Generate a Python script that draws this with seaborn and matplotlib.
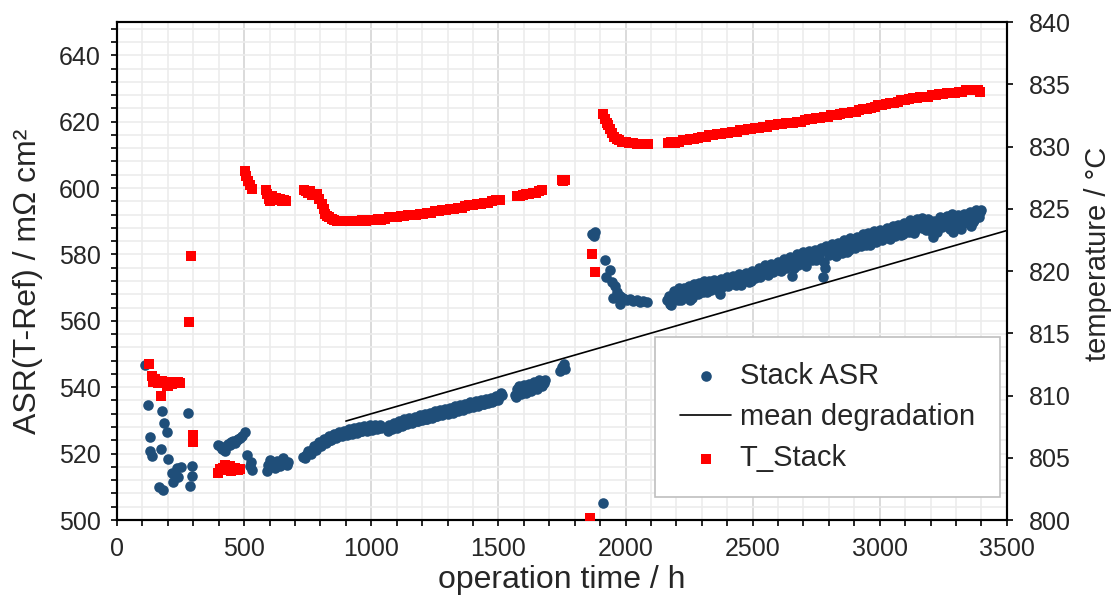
import numpy as np
import pandas as pd
import seaborn as sns
import matplotlib.pyplot as plt
from matplotlib.ticker import MultipleLocator

# ---------------- data ----------------
asr_time = [110, 123, 130, 130, 139, 166, 172, 178, 182, 185, 198, 202, 215, 221, 235, 241, 250, 280, 287, 294, 294,
            398, 405, 412, 418, 425, 431, 438, 444, 450, 457, 464, 470, 477, 484, 490, 503, 510, 523, 530, 527,
            588, 595, 602, 610, 621, 628, 635, 642, 654, 660, 667, 674,
            733, 745, 757, 768, 778, 788, 798, 808, 818, 828, 838, 848, 858, 868, 878, 888, 898, 908, 918, 928,
            938, 948, 958, 968, 978, 988, 998, 1008, 1018, 1028, 1038,
            1065, 1075, 1085, 1095, 1105, 1115, 1125, 1135, 1145, 1155, 1165, 1175, 1185, 1195, 1205, 1215, 1225,
            1235, 1245, 1255, 1265, 1275, 1285, 1295, 1305, 1315, 1325, 1335, 1345, 1355, 1365, 1375, 1385, 1395,
            1405, 1415, 1425, 1435, 1445, 1455, 1465, 1475, 1485, 1495, 1505, 1515,
            1565, 1575, 1585, 1595, 1605, 1615, 1625, 1635, 1645, 1655, 1665, 1676, 1685,
            1742, 1750, 1758, 1762,
            1867, 1875, 1880, 1911, 1919, 1925, 1938, 1945, 1952, 1958, 1965, 1978, 1978, 1990, 2004, 2017, 2030,
            2044, 2057, 2070, 2083,
            2165, 2175, 2185, 2195, 2205, 2215, 2225, 2235, 2245, 2255, 2265, 2275, 2285, 2295, 2305, 2315, 2325,
            2335, 2345, 2358, 2371, 2380, 2392, 2405, 2418, 2430, 2442, 2455, 2467, 2480, 2492, 2505, 2518, 2530,
            2542, 2555, 2567, 2580, 2592, 2605, 2617, 2630, 2642, 2655, 2668, 2680, 2692, 2705, 2712, 2725, 2738,
            2750, 2762, 2777, 2785, 2795, 2805, 2817, 2828, 2840, 2852, 2865, 2878, 2890, 2902, 2915, 2928, 2940,
            2948, 2960, 2972, 2985, 2997, 3010, 3022, 3035, 3047, 3060, 3066, 3078, 3090, 3102, 3115, 3127, 3140,
            3152, 3165, 3171, 3183, 3195, 3210, 3220, 3232, 3245, 3257, 3270, 3282, 3289, 3300, 3312, 3325, 3337,
            3350, 3354, 3360, 3372, 3385, 3393]
asr_value = [546.6, 534.6, 524.9, 520.7, 519.4, 509.9, 521.4, 532.7, 508.9, 529.2, 526.4, 518.4, 514.1, 511.6, 515.6,
             513.1, 516.0, 532.3, 510.3, 513.3, 516.3,
             522.7, 522.2, 521.5, 521.7, 520.7, 522.4, 523.0, 522.6, 523.4, 523.7, 523.2, 524.1, 524.4, 524.8, 525.2,
             526.4, 519.7, 516.3, 515.0, 517.5,
             514.9, 516.6, 518.0, 516.2, 515.6, 517.8, 517.0, 516.2, 518.7, 517.4, 516.5, 517.6,
             519.0, 519.6, 520.3, 521.0, 521.8, 522.6, 523.0, 523.6, 524.0, 524.6, 524.2, 525.0, 525.4, 525.2, 525.9,
             526.0, 526.4, 526.0, 526.8, 526.5, 527.0, 527.3, 526.9, 527.5, 527.8, 527.2, 527.9, 528.0, 527.6, 528.1,
             527.8,
             526.8, 527.9, 528.4, 528.2, 528.9, 529.2, 528.7, 529.5, 529.8, 529.4, 530.1, 530.3, 529.9, 530.6, 530.9,
             530.5, 531.2, 531.0, 531.6, 531.3, 532.0, 531.8, 532.4, 532.1, 532.8, 533.1, 532.7, 533.4, 533.7, 533.3,
             534.0, 534.2, 533.9, 534.6, 534.9, 534.5, 535.1, 535.4, 535.0, 535.7, 536.0, 535.6, 536.3, 536.8, 537.4,
             537.8,
             537.8, 539.5, 538.6, 539.8, 539.3, 540.2, 539.8, 540.9, 540.3, 541.4, 541.0, 541.8, 542.3,
             544.8, 546.0, 546.9, 545.6,
             586.2, 585.5, 586.7, 505.0, 578.3, 573.1, 575.4, 571.8, 567.0, 570.6, 568.6, 567.5, 565.0, 566.8, 566.2,
             566.5, 565.9, 566.4, 565.7, 566.1, 565.7,
             566.3, 565.2, 567.5, 568.6, 566.4, 568.9, 567.2, 569.3, 567.8, 566.2, 568.9, 569.8, 568.1, 570.2, 568.6,
             569.4, 570.8, 569.2, 570.6, 571.2, 568.0, 570.1, 571.5, 570.4, 572.1, 571.0, 572.8, 570.7, 572.4, 573.6,
             572.0, 573.9, 575.1, 573.2, 575.0, 574.1, 575.8, 574.6, 576.3, 575.3, 577.1, 575.9, 577.8, 573.6, 578.4,
             576.8, 578.9, 577.3, 578.6, 579.4, 580.1, 578.2, 579.8, 573.1, 576.0, 580.6, 581.6, 582.6, 579.6, 581.9,
             580.3, 582.6, 581.2, 583.4, 581.8, 584.0, 582.5, 584.6, 584.2, 582.9, 585.1, 583.7, 585.8, 584.3, 586.4,
             585.0, 587.0, 585.6, 586.7, 588.0, 586.2, 588.4, 586.9, 589.0, 587.4, 589.6, 588.0, 589.7, 587.3, 589.4,
             585.2, 587.6, 590.1, 588.3, 590.4, 588.8, 590.9, 586.7, 588.2, 590.6, 589.1, 591.2, 589.5, 591.7, 588.7,
             590.3, 592.6, 592.9]

# second pass of ASR readings (the scatter around the band)
asr_time_b = [740, 752, 762, 773, 783, 793, 803, 813, 823, 833, 843, 853, 863, 873, 883, 893, 903, 913, 923, 933,
              943, 953, 963, 973, 983, 993, 1003, 1013, 1023, 1033,
              1070, 1080, 1090, 1100, 1110, 1120, 1130, 1140, 1150, 1160, 1170, 1180, 1190, 1200, 1210, 1220, 1230,
              1240, 1250, 1260, 1270, 1280, 1290, 1300, 1310, 1320, 1330, 1340, 1350, 1360, 1370, 1380, 1390, 1400,
              1410, 1420, 1430, 1440, 1450, 1460, 1470, 1480, 1490, 1500, 1510,
              1570, 1580, 1590, 1600, 1610, 1620, 1630, 1640, 1650, 1660, 1670, 1680,
              2170, 2180, 2190, 2200, 2210, 2220, 2230, 2240, 2250, 2260, 2270, 2280, 2290, 2300, 2310, 2320, 2330,
              2340, 2350, 2362, 2375, 2386, 2398, 2410, 2423, 2436, 2448, 2461, 2473, 2486, 2498, 2511, 2524, 2536,
              2548, 2561, 2573, 2586, 2598, 2611, 2623, 2636, 2648, 2661, 2674, 2686, 2698, 2710, 2720, 2732, 2744,
              2756, 2768, 2780, 2790, 2800, 2811, 2822, 2834, 2846, 2858, 2871, 2884, 2896, 2909, 2921, 2934, 2946,
              2955, 2966, 2978, 2991, 3003, 3016, 3028, 3041, 3053, 3063, 3072, 3084, 3096, 3108, 3121, 3133, 3146,
              3158, 3168, 3177, 3189, 3201, 3215, 3226, 3238, 3251, 3263, 3276, 3286, 3295, 3306, 3318, 3331, 3343,
              3356, 3366, 3378, 3390, 3398]
asr_value_b = [518.6, 520.9, 519.8, 522.2, 521.2, 523.4, 522.4, 524.5, 523.3, 525.2, 524.0, 525.9, 524.6, 526.6,
               525.3, 526.9, 525.5, 527.4, 526.0, 527.8, 526.3, 528.0, 526.7, 528.3, 526.9, 528.6, 527.1, 528.7,
               527.3, 528.5,
               528.5, 527.3, 529.2, 527.8, 529.9, 528.3, 530.3, 528.9, 530.7, 529.3, 531.1, 529.7, 531.5, 530.1,
               531.9, 530.4, 532.3, 530.8, 532.7, 531.2, 533.1, 531.5, 533.3, 532.0, 533.8, 532.3, 534.3, 532.9,
               534.6, 533.2, 535.0, 533.6, 535.5, 534.0, 535.8, 534.4, 536.2, 534.8, 536.6, 535.2, 536.9, 535.9,
               537.5, 536.2, 538.3,
               537.0, 540.4, 537.9, 540.6, 538.4, 541.0, 539.0, 541.6, 539.6, 542.3, 540.4, 541.2,
               567.6, 564.9, 569.0, 567.0, 569.8, 566.3, 570.0, 568.5, 570.6, 567.0, 571.0, 568.9, 571.3, 569.4,
               571.9, 568.6, 572.0, 570.0, 572.3, 569.4, 572.7, 570.8, 573.1, 571.6, 573.4, 570.7, 574.0, 572.4,
               574.4, 571.8, 575.0, 572.9, 576.0, 574.3, 576.7, 573.7, 577.2, 575.4, 577.8, 574.9, 578.5, 576.8,
               579.2, 576.0, 580.0, 577.9, 580.6, 576.6, 581.0, 578.4, 581.3, 579.6, 581.9, 577.7, 582.4, 579.9,
               583.0, 580.8, 583.5, 582.1, 584.2, 580.6, 584.8, 582.9, 585.3, 583.2, 586.0, 582.7, 586.4, 584.2,
               587.0, 584.9, 587.3, 585.5, 588.0, 584.6, 588.5, 587.2, 589.0, 585.7, 589.5, 587.6, 590.3, 586.4,
               590.6, 588.3, 591.0, 588.7, 590.8, 587.2, 590.2, 586.9, 591.4, 589.0, 591.6, 587.8, 592.1, 589.6,
               591.9, 587.8, 592.3, 590.0, 592.8, 589.9, 593.3, 591.3, 593.5]

temp_time = [126, 136, 143, 150, 160, 173, 176, 188, 195, 202, 210, 218, 228, 238, 248, 283, 291, 300, 300,
             398, 405, 412, 418, 425, 431, 438, 444, 450, 457, 464, 470, 477, 484,
             503, 508, 515, 523, 530,
             585, 590, 596, 602, 610, 618, 625, 632, 640, 648, 656, 664,
             735, 742, 750, 758, 766, 775, 785, 795, 805, 812, 818, 826, 835, 845, 855, 865, 877, 890, 905, 920, 935,
             950, 965, 980, 995, 1010, 1025, 1040, 1055, 1070, 1085, 1100, 1115, 1130, 1145, 1160, 1175, 1190, 1205,
             1220, 1235, 1250, 1265, 1280, 1295, 1310, 1325, 1340, 1355, 1370, 1385, 1400, 1415, 1430, 1445, 1460,
             1475, 1490, 1505,
             1572, 1585, 1598, 1610, 1622, 1635, 1648, 1660, 1672,
             1749, 1755, 1762,
             1860, 1867, 1880,
             1911, 1919, 1926, 1932, 1940, 1948, 1956, 1965, 1975, 1988, 2000, 2015, 2030, 2045, 2057, 2070, 2089,
             2168, 2180, 2195, 2210, 2225, 2240, 2255, 2270, 2285, 2300, 2315, 2330, 2345, 2360, 2375, 2390, 2405,
             2420, 2437, 2450, 2465, 2480, 2495, 2510, 2525, 2540, 2555, 2568, 2585, 2600, 2615, 2630, 2645, 2660,
             2675, 2690, 2705, 2720, 2735, 2750, 2765, 2780, 2795, 2810, 2830, 2845, 2860, 2875, 2890, 2905, 2920,
             2935, 2950, 2965, 2980, 2995, 3010, 3025, 3040, 3055, 3070, 3085, 3100, 3115, 3130, 3145, 3160, 3175,
             3190, 3205, 3220, 3235, 3250, 3265, 3280, 3295, 3310, 3325, 3340, 3355, 3370, 3385, 3393]
temp_value = [812.5, 811.6, 811.1, 811.3, 811.0, 810.0, 811.2, 811.0, 810.8, 810.8, 811.1, 810.9, 811.0, 811.1, 811.0,
              815.9, 821.2, 806.8, 806.3,
              803.8, 804.1, 804.0, 804.2, 804.4, 804.2, 804.1, 804.3, 803.9, 804.0, 804.2, 804.1, 804.0, 804.1,
              828.0, 827.6, 827.2, 826.9, 826.6,
              826.5, 826.2, 825.8, 825.6, 826.0, 825.7, 825.9, 825.7, 825.8, 825.6, 825.7, 825.6,
              826.5, 826.4, 826.3, 826.4, 826.1, 826.2, 826.2, 825.8, 825.4, 825.0, 824.6, 824.4, 824.3, 824.2, 824.1,
              824.0, 824.0, 824.0, 824.0, 824.0, 824.0, 824.0, 824.1, 824.0, 824.1, 824.1, 824.2, 824.1, 824.2, 824.3,
              824.3, 824.3, 824.4, 824.4, 824.5, 824.5, 824.5, 824.6, 824.6, 824.7, 824.7, 824.8, 824.8, 824.9, 824.9,
              825.0, 825.0, 825.1, 825.1, 825.2, 825.3, 825.3, 825.4, 825.4, 825.5, 825.5, 825.6, 825.7, 825.7,
              826.0, 826.0, 826.1, 826.2, 826.2, 826.3, 826.3, 826.4, 826.5,
              827.3, 827.2, 827.3,
              800.2, 821.4, 819.9,
              832.6, 832.2, 831.9, 831.7, 831.4, 831.1, 830.8, 830.6, 830.5, 830.4, 830.4, 830.3, 830.3, 830.2, 830.2,
              830.2, 830.2,
              830.3, 830.4, 830.3, 830.4, 830.5, 830.5, 830.6, 830.6, 830.7, 830.8, 830.8, 830.9, 830.9, 831.0, 831.0,
              831.1, 831.1, 831.2, 831.2, 831.3, 831.3, 831.4, 831.4, 831.5, 831.5, 831.6, 831.6, 831.7, 831.7, 831.8,
              831.8, 831.9, 831.9, 831.9, 832.0, 832.0, 832.1, 832.2, 832.2, 832.3, 832.3, 832.4, 832.4, 832.5, 832.5,
              832.6, 832.7, 832.7, 832.8, 832.8, 832.9, 833.0, 833.0, 833.1, 833.2, 833.3, 833.3, 833.4, 833.5, 833.5,
              833.6, 833.7, 833.7, 833.8, 833.9, 833.9, 834.0, 834.0, 834.0, 834.1, 834.1, 834.2, 834.2, 834.3, 834.3,
              834.3, 834.4, 834.4, 834.5, 834.5, 834.5, 834.5, 834.4]

deg_time = [900, 3500]
deg_value = [529.8, 587.2]

asr_df = pd.DataFrame({"time": asr_time + asr_time_b, "asr": asr_value + asr_value_b})
temp_df = pd.DataFrame({"time": temp_time, "temp": temp_value})
deg_df = pd.DataFrame({"time": deg_time, "asr": deg_value})

# ---------------- style ----------------
sns.set_style("ticks")
plt.rcParams["font.family"] = ["Liberation Sans", "DejaVu Sans"]
txt = "#262626"

fig = plt.figure(figsize=(11.15, 6), dpi=100)
ax = fig.add_axes([0.105, 0.1333, 0.798, 0.83])
ax2 = ax.twinx()

sns.scatterplot(data=asr_df, x="time", y="asr", ax=ax, color="#1f4e79", marker="o", s=58,
                linewidth=0, label="Stack ASR", zorder=3)
sns.lineplot(data=deg_df, x="time", y="asr", ax=ax, color="black", linewidth=1.2,
             label="mean degradation", zorder=4)
sns.scatterplot(data=temp_df, x="time", y="temp", ax=ax2, color="#ff0000", marker="s", s=48,
                linewidth=0, label="T_Stack", zorder=3)

ax.set_xlim(0, 3500)
ax.set_ylim(500, 650)
ax2.set_ylim(800, 840)

ax.xaxis.set_major_locator(MultipleLocator(500))
ax.xaxis.set_minor_locator(MultipleLocator(100))
ax.yaxis.set_minor_locator(MultipleLocator(4))
ax.set_yticks(np.arange(500, 641, 20))
ax2.yaxis.set_major_locator(MultipleLocator(5))

ax.grid(which="major", axis="x", color="#d4d4d4", linewidth=1.2)
ax.grid(which="minor", axis="x", color="#ececec", linewidth=1.2)
ax.grid(which="both", axis="y", color="#ececec", linewidth=1.2)
ax.set_axisbelow(True)

for a in (ax, ax2):
    a.tick_params(which="both", direction="out", length=4, width=1.2, colors="black",
                  labelcolor=txt, labelsize=18)
    for sp in a.spines.values():
        sp.set_color("black")
        sp.set_linewidth(1.5)
ax.tick_params(axis="x", which="both", pad=8)
ax.tick_params(axis="y", which="both", pad=8)
ax2.tick_params(axis="y", which="both", pad=12)

ax.set_xlabel("operation time / h", fontsize=23, color=txt, labelpad=3)
ax.set_ylabel("ASR(T-Ref) / mΩ cm²", fontsize=23, color=txt, labelpad=12)
ax2.set_ylabel("temperature / °C", fontsize=21, color=txt, labelpad=10)
ax.yaxis.set_label_coords(-0.083, 0.48)
ax2.yaxis.set_label_coords(1.087, 0.535)

h1, l1 = ax.get_legend_handles_labels()
h2, l2 = ax2.get_legend_handles_labels()
if ax.get_legend() is not None:
    ax.get_legend().remove()
if ax2.get_legend() is not None:
    ax2.get_legend().remove()
leg = ax2.legend(h1 + h2, l1 + l2, loc="lower right", bbox_to_anchor=(0.992, 0.046),
                 borderaxespad=0, fontsize=21, frameon=True, fancybox=False, framealpha=1,
                 edgecolor="#bfbfbf", borderpad=0.85, labelspacing=0.45, handlelength=1.75,
                 handletextpad=0.3)
leg.get_frame().set_linewidth(1.2)
for t in leg.get_texts():
    t.set_color(txt)

fig.savefig("out.png", dpi=100)
